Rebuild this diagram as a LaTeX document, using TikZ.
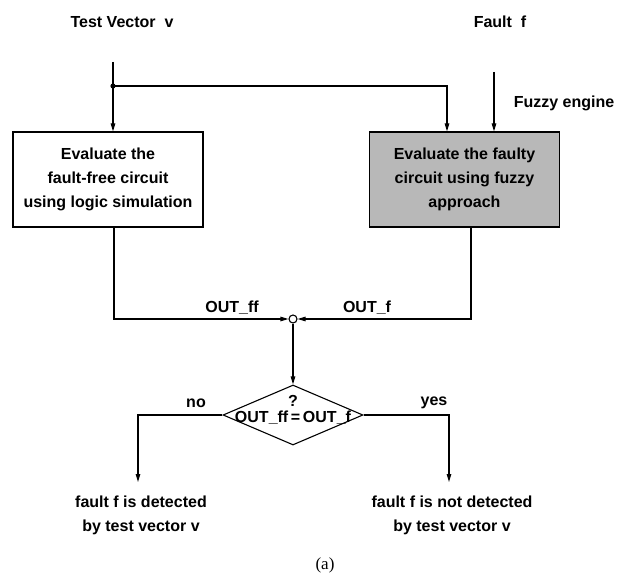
\documentclass[tikz,border=0pt]{standalone}
\usepackage{fontspec}
\setmainfont{Liberation Sans}
\newfontfamily\capserif{Liberation Serif}
\usetikzlibrary{arrows.meta,shapes.geometric}
\begin{document}
\begin{tikzpicture}[x=1pt,y=-1pt,
  every node/.style={font=\fontsize{16}{24}\selectfont\bfseries},
  lbl/.style={inner sep=0pt, align=center},
  wire/.style={line width=1.1pt},
  arr/.style={wire, -{Triangle[length=8pt,width=4.5pt]}},
  procbox/.style={draw, line width=1.1pt, minimum width=190pt, minimum height=95pt, align=center, inner sep=0pt},
  shade/.style={fill=black!28}
]
\useasboundingbox (0,0) rectangle (625,578);

\node[lbl] (tv) at (122,22) {Test Vector\ \ v};
\node[lbl] (fl) at (500,22) {Fault\ \ f};
\node[lbl] (fe) at (564,103) {Fuzzy engine};

\coordinate (tvtop) at (113,62);
\coordinate (split) at (113,86);
\coordinate (rcorner) at (447,86);
\coordinate (fltop) at (494,72);

\node[procbox] (lb) at (108,179.5) {Evaluate the\\fault-free circuit\\using logic simulation};
\node[procbox, shade] (rb) at (464.5,179.5) {Evaluate the faulty\\circuit using fuzzy\\approach};

\draw[arr] (tvtop) -- (tvtop |- lb.north);
\fill (split) circle (2.6pt);
\draw[arr] (split) -- (rcorner) -- (rcorner |- rb.north);
\draw[arr] (fltop) -- (fltop |- rb.north);

\node[circle, draw, line width=1.1pt, fill=white, inner sep=0pt, minimum size=8pt] (j) at (293,319) {};
\coordinate (lc) at (114,319);
\coordinate (rc) at (471,319);
\draw[arr] (lc |- lb.south) -- (lc) -- (j.west);
\draw[arr] (rc |- rb.south) -- (rc) -- (j.east);
\node[lbl] (off) at (232,308) {OUT\_ff};
\node[lbl] (of) at (367,308) {OUT\_f};

\node[diamond, draw, line width=1.1pt, minimum width=140pt, minimum height=60pt, inner sep=0pt] (d) at (293,415) {};
\draw[arr] (j.south) -- (d.north);
\node[lbl, anchor=base] (dt) at (293,422) {OUT\_ff\,=\,OUT\_f};
\node[lbl] (q) at (293,401) {?};

\coordinate (nc) at (138,415);
\coordinate (nb) at (138,482);
\coordinate (yc) at (449,415);
\coordinate (yb) at (449,482);
\draw[arr] (d.west) -- (nc) -- (nb);
\draw[arr] (d.east) -- (yc) -- (yb);
\node[lbl] (no) at (196,403) {no};
\node[lbl] (yes) at (434,403) {yes};

\node[lbl] (t1) at (141,515) {fault f is detected\\by test vector v};
\node[lbl] (t2) at (452,515) {fault f is not detected\\by test vector v};

\node[lbl, font=\capserif\fontsize{17}{20}\selectfont] (cap) at (325,565) {(a)};
\end{tikzpicture}
\end{document}
